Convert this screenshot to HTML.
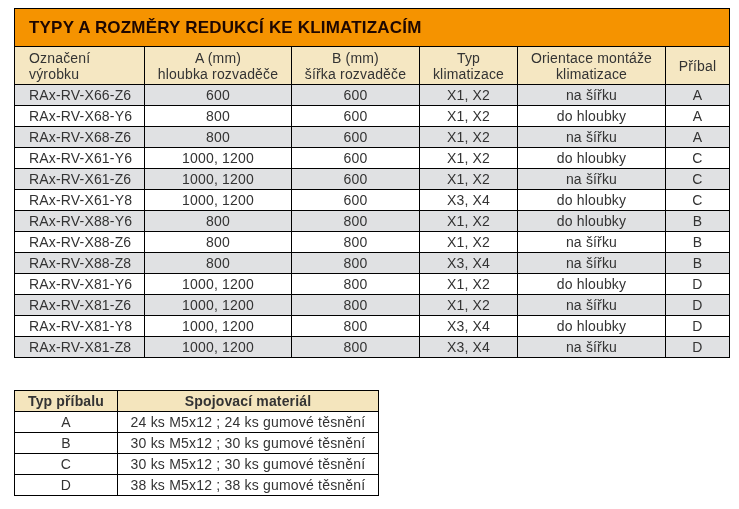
<!DOCTYPE html>
<html><head><meta charset="utf-8"><style>
html,body{margin:0;padding:0;background:#fff;width:739px;height:509px;overflow:hidden;position:relative}
div{position:absolute;white-space:nowrap}
.tt,.hd,.td,.h2,.d2{will-change:transform}
.tt{font:bold 17px "Liberation Sans",sans-serif;color:#1e0700;letter-spacing:0.19px;line-height:20px}
.hd{font:14px "Liberation Sans",sans-serif;color:#333;line-height:16px;letter-spacing:0.17px}
.td{font:14px "Liberation Sans",sans-serif;color:#333;line-height:20px;letter-spacing:0.17px}
.h2{font:bold 14px "Liberation Sans",sans-serif;color:#333;line-height:20px;letter-spacing:0.15px}
.d2{font:14px "Liberation Sans",sans-serif;color:#333;line-height:20px;letter-spacing:0.2px}
</style></head><body>
<div style="left:14px;top:8px;width:716px;height:350px;background:#000"></div>
<div style="left:15px;top:9px;width:714px;height:37px;background:#f59300"></div>
<div style="left:15px;top:47px;width:129px;height:37px;background:#f5e7c2"></div>
<div style="left:145px;top:47px;width:146px;height:37px;background:#f5e7c2"></div>
<div style="left:292px;top:47px;width:127px;height:37px;background:#f5e7c2"></div>
<div style="left:420px;top:47px;width:97px;height:37px;background:#f5e7c2"></div>
<div style="left:518px;top:47px;width:147px;height:37px;background:#f5e7c2"></div>
<div style="left:666px;top:47px;width:63px;height:37px;background:#f5e7c2"></div>
<div style="left:15px;top:85px;width:129px;height:20px;background:#e0e1e3"></div>
<div style="left:145px;top:85px;width:146px;height:20px;background:#e0e1e3"></div>
<div style="left:292px;top:85px;width:127px;height:20px;background:#e0e1e3"></div>
<div style="left:420px;top:85px;width:97px;height:20px;background:#e0e1e3"></div>
<div style="left:518px;top:85px;width:147px;height:20px;background:#e0e1e3"></div>
<div style="left:666px;top:85px;width:63px;height:20px;background:#e0e1e3"></div>
<div style="left:15px;top:106px;width:129px;height:20px;background:#fff"></div>
<div style="left:145px;top:106px;width:146px;height:20px;background:#fff"></div>
<div style="left:292px;top:106px;width:127px;height:20px;background:#fff"></div>
<div style="left:420px;top:106px;width:97px;height:20px;background:#fff"></div>
<div style="left:518px;top:106px;width:147px;height:20px;background:#fff"></div>
<div style="left:666px;top:106px;width:63px;height:20px;background:#fff"></div>
<div style="left:15px;top:127px;width:129px;height:20px;background:#e0e1e3"></div>
<div style="left:145px;top:127px;width:146px;height:20px;background:#e0e1e3"></div>
<div style="left:292px;top:127px;width:127px;height:20px;background:#e0e1e3"></div>
<div style="left:420px;top:127px;width:97px;height:20px;background:#e0e1e3"></div>
<div style="left:518px;top:127px;width:147px;height:20px;background:#e0e1e3"></div>
<div style="left:666px;top:127px;width:63px;height:20px;background:#e0e1e3"></div>
<div style="left:15px;top:148px;width:129px;height:20px;background:#fff"></div>
<div style="left:145px;top:148px;width:146px;height:20px;background:#fff"></div>
<div style="left:292px;top:148px;width:127px;height:20px;background:#fff"></div>
<div style="left:420px;top:148px;width:97px;height:20px;background:#fff"></div>
<div style="left:518px;top:148px;width:147px;height:20px;background:#fff"></div>
<div style="left:666px;top:148px;width:63px;height:20px;background:#fff"></div>
<div style="left:15px;top:169px;width:129px;height:20px;background:#e0e1e3"></div>
<div style="left:145px;top:169px;width:146px;height:20px;background:#e0e1e3"></div>
<div style="left:292px;top:169px;width:127px;height:20px;background:#e0e1e3"></div>
<div style="left:420px;top:169px;width:97px;height:20px;background:#e0e1e3"></div>
<div style="left:518px;top:169px;width:147px;height:20px;background:#e0e1e3"></div>
<div style="left:666px;top:169px;width:63px;height:20px;background:#e0e1e3"></div>
<div style="left:15px;top:190px;width:129px;height:20px;background:#fff"></div>
<div style="left:145px;top:190px;width:146px;height:20px;background:#fff"></div>
<div style="left:292px;top:190px;width:127px;height:20px;background:#fff"></div>
<div style="left:420px;top:190px;width:97px;height:20px;background:#fff"></div>
<div style="left:518px;top:190px;width:147px;height:20px;background:#fff"></div>
<div style="left:666px;top:190px;width:63px;height:20px;background:#fff"></div>
<div style="left:15px;top:211px;width:129px;height:20px;background:#e0e1e3"></div>
<div style="left:145px;top:211px;width:146px;height:20px;background:#e0e1e3"></div>
<div style="left:292px;top:211px;width:127px;height:20px;background:#e0e1e3"></div>
<div style="left:420px;top:211px;width:97px;height:20px;background:#e0e1e3"></div>
<div style="left:518px;top:211px;width:147px;height:20px;background:#e0e1e3"></div>
<div style="left:666px;top:211px;width:63px;height:20px;background:#e0e1e3"></div>
<div style="left:15px;top:232px;width:129px;height:20px;background:#fff"></div>
<div style="left:145px;top:232px;width:146px;height:20px;background:#fff"></div>
<div style="left:292px;top:232px;width:127px;height:20px;background:#fff"></div>
<div style="left:420px;top:232px;width:97px;height:20px;background:#fff"></div>
<div style="left:518px;top:232px;width:147px;height:20px;background:#fff"></div>
<div style="left:666px;top:232px;width:63px;height:20px;background:#fff"></div>
<div style="left:15px;top:253px;width:129px;height:20px;background:#e0e1e3"></div>
<div style="left:145px;top:253px;width:146px;height:20px;background:#e0e1e3"></div>
<div style="left:292px;top:253px;width:127px;height:20px;background:#e0e1e3"></div>
<div style="left:420px;top:253px;width:97px;height:20px;background:#e0e1e3"></div>
<div style="left:518px;top:253px;width:147px;height:20px;background:#e0e1e3"></div>
<div style="left:666px;top:253px;width:63px;height:20px;background:#e0e1e3"></div>
<div style="left:15px;top:274px;width:129px;height:20px;background:#fff"></div>
<div style="left:145px;top:274px;width:146px;height:20px;background:#fff"></div>
<div style="left:292px;top:274px;width:127px;height:20px;background:#fff"></div>
<div style="left:420px;top:274px;width:97px;height:20px;background:#fff"></div>
<div style="left:518px;top:274px;width:147px;height:20px;background:#fff"></div>
<div style="left:666px;top:274px;width:63px;height:20px;background:#fff"></div>
<div style="left:15px;top:295px;width:129px;height:20px;background:#e0e1e3"></div>
<div style="left:145px;top:295px;width:146px;height:20px;background:#e0e1e3"></div>
<div style="left:292px;top:295px;width:127px;height:20px;background:#e0e1e3"></div>
<div style="left:420px;top:295px;width:97px;height:20px;background:#e0e1e3"></div>
<div style="left:518px;top:295px;width:147px;height:20px;background:#e0e1e3"></div>
<div style="left:666px;top:295px;width:63px;height:20px;background:#e0e1e3"></div>
<div style="left:15px;top:316px;width:129px;height:20px;background:#fff"></div>
<div style="left:145px;top:316px;width:146px;height:20px;background:#fff"></div>
<div style="left:292px;top:316px;width:127px;height:20px;background:#fff"></div>
<div style="left:420px;top:316px;width:97px;height:20px;background:#fff"></div>
<div style="left:518px;top:316px;width:147px;height:20px;background:#fff"></div>
<div style="left:666px;top:316px;width:63px;height:20px;background:#fff"></div>
<div style="left:15px;top:337px;width:129px;height:20px;background:#e0e1e3"></div>
<div style="left:145px;top:337px;width:146px;height:20px;background:#e0e1e3"></div>
<div style="left:292px;top:337px;width:127px;height:20px;background:#e0e1e3"></div>
<div style="left:420px;top:337px;width:97px;height:20px;background:#e0e1e3"></div>
<div style="left:518px;top:337px;width:147px;height:20px;background:#e0e1e3"></div>
<div style="left:666px;top:337px;width:63px;height:20px;background:#e0e1e3"></div>
<div class="tt" style="left:29px;top:18px;width:671px;text-align:left">TYPY A ROZMĚRY REDUKCÍ KE KLIMATIZACÍM</div>
<div class="hd" style="left:29px;top:50px;width:115px;text-align:left">Označení<br>výrobku</div>
<div class="hd" style="left:145px;top:50px;width:146px;text-align:center">A (mm)<br>hloubka rozvaděče</div>
<div class="hd" style="left:292px;top:50px;width:127px;text-align:center">B (mm)<br>šířka rozvaděče</div>
<div class="hd" style="left:420px;top:50px;width:97px;text-align:center">Typ<br>klimatizace</div>
<div class="hd" style="left:518px;top:50px;width:147px;text-align:center">Orientace montáže<br>klimatizace</div>
<div class="hd" style="left:666px;top:58px;width:63px;text-align:center">Příbal</div>
<div class="td" style="left:29px;top:85px;width:115px;text-align:left">RAx-RV-X66-Z6</div>
<div class="td" style="left:145px;top:85px;width:146px;text-align:center">600</div>
<div class="td" style="left:292px;top:85px;width:127px;text-align:center">600</div>
<div class="td" style="left:420px;top:85px;width:97px;text-align:center">X1, X2</div>
<div class="td" style="left:518px;top:85px;width:147px;text-align:center">na šířku</div>
<div class="td" style="left:666px;top:85px;width:63px;text-align:center">A</div>
<div class="td" style="left:29px;top:106px;width:115px;text-align:left">RAx-RV-X68-Y6</div>
<div class="td" style="left:145px;top:106px;width:146px;text-align:center">800</div>
<div class="td" style="left:292px;top:106px;width:127px;text-align:center">600</div>
<div class="td" style="left:420px;top:106px;width:97px;text-align:center">X1, X2</div>
<div class="td" style="left:518px;top:106px;width:147px;text-align:center">do hloubky</div>
<div class="td" style="left:666px;top:106px;width:63px;text-align:center">A</div>
<div class="td" style="left:29px;top:127px;width:115px;text-align:left">RAx-RV-X68-Z6</div>
<div class="td" style="left:145px;top:127px;width:146px;text-align:center">800</div>
<div class="td" style="left:292px;top:127px;width:127px;text-align:center">600</div>
<div class="td" style="left:420px;top:127px;width:97px;text-align:center">X1, X2</div>
<div class="td" style="left:518px;top:127px;width:147px;text-align:center">na šířku</div>
<div class="td" style="left:666px;top:127px;width:63px;text-align:center">A</div>
<div class="td" style="left:29px;top:148px;width:115px;text-align:left">RAx-RV-X61-Y6</div>
<div class="td" style="left:145px;top:148px;width:146px;text-align:center">1000, 1200</div>
<div class="td" style="left:292px;top:148px;width:127px;text-align:center">600</div>
<div class="td" style="left:420px;top:148px;width:97px;text-align:center">X1, X2</div>
<div class="td" style="left:518px;top:148px;width:147px;text-align:center">do hloubky</div>
<div class="td" style="left:666px;top:148px;width:63px;text-align:center">C</div>
<div class="td" style="left:29px;top:169px;width:115px;text-align:left">RAx-RV-X61-Z6</div>
<div class="td" style="left:145px;top:169px;width:146px;text-align:center">1000, 1200</div>
<div class="td" style="left:292px;top:169px;width:127px;text-align:center">600</div>
<div class="td" style="left:420px;top:169px;width:97px;text-align:center">X1, X2</div>
<div class="td" style="left:518px;top:169px;width:147px;text-align:center">na šířku</div>
<div class="td" style="left:666px;top:169px;width:63px;text-align:center">C</div>
<div class="td" style="left:29px;top:190px;width:115px;text-align:left">RAx-RV-X61-Y8</div>
<div class="td" style="left:145px;top:190px;width:146px;text-align:center">1000, 1200</div>
<div class="td" style="left:292px;top:190px;width:127px;text-align:center">600</div>
<div class="td" style="left:420px;top:190px;width:97px;text-align:center">X3, X4</div>
<div class="td" style="left:518px;top:190px;width:147px;text-align:center">do hloubky</div>
<div class="td" style="left:666px;top:190px;width:63px;text-align:center">C</div>
<div class="td" style="left:29px;top:211px;width:115px;text-align:left">RAx-RV-X88-Y6</div>
<div class="td" style="left:145px;top:211px;width:146px;text-align:center">800</div>
<div class="td" style="left:292px;top:211px;width:127px;text-align:center">800</div>
<div class="td" style="left:420px;top:211px;width:97px;text-align:center">X1, X2</div>
<div class="td" style="left:518px;top:211px;width:147px;text-align:center">do hloubky</div>
<div class="td" style="left:666px;top:211px;width:63px;text-align:center">B</div>
<div class="td" style="left:29px;top:232px;width:115px;text-align:left">RAx-RV-X88-Z6</div>
<div class="td" style="left:145px;top:232px;width:146px;text-align:center">800</div>
<div class="td" style="left:292px;top:232px;width:127px;text-align:center">800</div>
<div class="td" style="left:420px;top:232px;width:97px;text-align:center">X1, X2</div>
<div class="td" style="left:518px;top:232px;width:147px;text-align:center">na šířku</div>
<div class="td" style="left:666px;top:232px;width:63px;text-align:center">B</div>
<div class="td" style="left:29px;top:253px;width:115px;text-align:left">RAx-RV-X88-Z8</div>
<div class="td" style="left:145px;top:253px;width:146px;text-align:center">800</div>
<div class="td" style="left:292px;top:253px;width:127px;text-align:center">800</div>
<div class="td" style="left:420px;top:253px;width:97px;text-align:center">X3, X4</div>
<div class="td" style="left:518px;top:253px;width:147px;text-align:center">na šířku</div>
<div class="td" style="left:666px;top:253px;width:63px;text-align:center">B</div>
<div class="td" style="left:29px;top:274px;width:115px;text-align:left">RAx-RV-X81-Y6</div>
<div class="td" style="left:145px;top:274px;width:146px;text-align:center">1000, 1200</div>
<div class="td" style="left:292px;top:274px;width:127px;text-align:center">800</div>
<div class="td" style="left:420px;top:274px;width:97px;text-align:center">X1, X2</div>
<div class="td" style="left:518px;top:274px;width:147px;text-align:center">do hloubky</div>
<div class="td" style="left:666px;top:274px;width:63px;text-align:center">D</div>
<div class="td" style="left:29px;top:295px;width:115px;text-align:left">RAx-RV-X81-Z6</div>
<div class="td" style="left:145px;top:295px;width:146px;text-align:center">1000, 1200</div>
<div class="td" style="left:292px;top:295px;width:127px;text-align:center">800</div>
<div class="td" style="left:420px;top:295px;width:97px;text-align:center">X1, X2</div>
<div class="td" style="left:518px;top:295px;width:147px;text-align:center">na šířku</div>
<div class="td" style="left:666px;top:295px;width:63px;text-align:center">D</div>
<div class="td" style="left:29px;top:316px;width:115px;text-align:left">RAx-RV-X81-Y8</div>
<div class="td" style="left:145px;top:316px;width:146px;text-align:center">1000, 1200</div>
<div class="td" style="left:292px;top:316px;width:127px;text-align:center">800</div>
<div class="td" style="left:420px;top:316px;width:97px;text-align:center">X3, X4</div>
<div class="td" style="left:518px;top:316px;width:147px;text-align:center">do hloubky</div>
<div class="td" style="left:666px;top:316px;width:63px;text-align:center">D</div>
<div class="td" style="left:29px;top:337px;width:115px;text-align:left">RAx-RV-X81-Z8</div>
<div class="td" style="left:145px;top:337px;width:146px;text-align:center">1000, 1200</div>
<div class="td" style="left:292px;top:337px;width:127px;text-align:center">800</div>
<div class="td" style="left:420px;top:337px;width:97px;text-align:center">X3, X4</div>
<div class="td" style="left:518px;top:337px;width:147px;text-align:center">na šířku</div>
<div class="td" style="left:666px;top:337px;width:63px;text-align:center">D</div>
<div style="left:14px;top:390px;width:365px;height:106px;background:#000"></div>
<div style="left:15px;top:391px;width:102px;height:20px;background:#f4e5bd"></div>
<div style="left:118px;top:391px;width:260px;height:20px;background:#f4e5bd"></div>
<div style="left:15px;top:412px;width:102px;height:20px;background:#fff"></div>
<div style="left:118px;top:412px;width:260px;height:20px;background:#fff"></div>
<div style="left:15px;top:433px;width:102px;height:20px;background:#fff"></div>
<div style="left:118px;top:433px;width:260px;height:20px;background:#fff"></div>
<div style="left:15px;top:454px;width:102px;height:20px;background:#fff"></div>
<div style="left:118px;top:454px;width:260px;height:20px;background:#fff"></div>
<div style="left:15px;top:475px;width:102px;height:20px;background:#fff"></div>
<div style="left:118px;top:475px;width:260px;height:20px;background:#fff"></div>
<div class="h2" style="left:15px;top:391px;width:102px;text-align:center">Typ příbalu</div>
<div class="h2" style="left:118px;top:391px;width:260px;text-align:center">Spojovací materiál</div>
<div class="d2" style="left:15px;top:412px;width:102px;text-align:center">A</div>
<div class="d2" style="left:118px;top:412px;width:260px;text-align:center">24 ks M5x12 ; 24 ks gumové těsnění</div>
<div class="d2" style="left:15px;top:433px;width:102px;text-align:center">B</div>
<div class="d2" style="left:118px;top:433px;width:260px;text-align:center">30 ks M5x12 ; 30 ks gumové těsnění</div>
<div class="d2" style="left:15px;top:454px;width:102px;text-align:center">C</div>
<div class="d2" style="left:118px;top:454px;width:260px;text-align:center">30 ks M5x12 ; 30 ks gumové těsnění</div>
<div class="d2" style="left:15px;top:475px;width:102px;text-align:center">D</div>
<div class="d2" style="left:118px;top:475px;width:260px;text-align:center">38 ks M5x12 ; 38 ks gumové těsnění</div>
</body></html>
